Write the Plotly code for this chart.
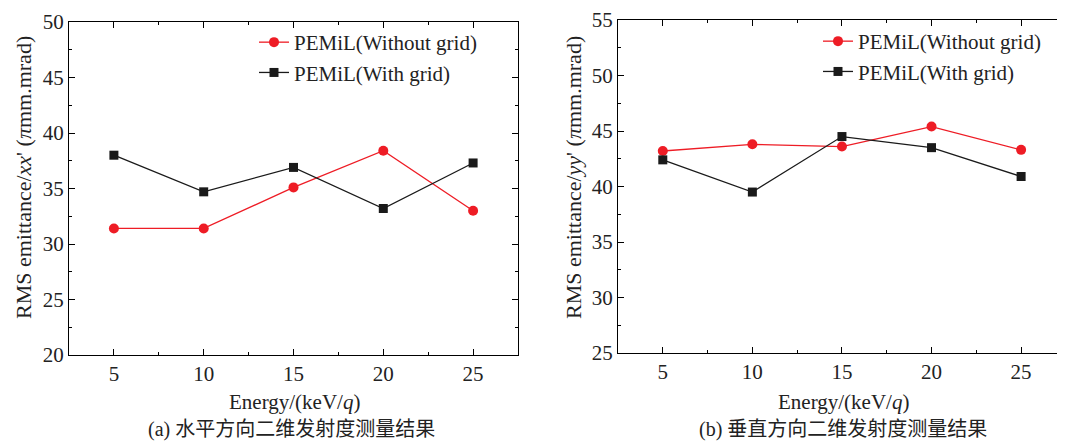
import plotly.graph_objects as go

energy = [5, 10, 15, 20, 25]
xx_without = [31.4, 31.4, 35.1, 38.4, 33.0]
xx_with = [38.0, 34.7, 36.9, 33.2, 37.3]
yy_without = [43.2, 43.8, 43.6, 45.4, 43.3]
yy_with = [42.4, 39.5, 44.5, 43.5, 40.9]

name_without = "PEMiL(Without grid)"
name_with = "PEMiL(With grid)"

RED = "#ee1c25"
BLACK = "#1a1a1a"
FONT = "Liberation Serif"
CJK = "Noto Sans CJK SC"
FS = 21
W, H = 1057, 433

fig = go.Figure()

def add(x, y, name, color, symbol, size, xa, ya):
    fig.add_trace(go.Scatter(
        x=x, y=y, name=name, mode="lines+markers",
        line=dict(color=color, width=1.3),
        marker=dict(color=color, symbol=symbol, size=size),
        xaxis=xa, yaxis=ya, showlegend=True,
        legend="legend" if xa == "x" else "legend2"))

add(energy, xx_without, name_without, RED, "circle", 10, "x", "y")
add(energy, xx_with, name_with, BLACK, "square", 9, "x", "y")
add(energy, yy_without, name_without, RED, "circle", 10, "x2", "y2")
add(energy, yy_with, name_with, BLACK, "square", 9, "x2", "y2")

axis_common = dict(
    showgrid=False, zeroline=False, showline=True, linecolor="black", linewidth=1,
    mirror="ticks", ticks="inside", ticklen=6, tickwidth=1, tickcolor="black",
    tickfont=dict(family=FONT, size=FS, color="#222"), automargin=False,
)
xminor = dict(ticks="inside", ticklen=3, tickcolor="black", tickwidth=1, dtick=2.5, tick0=2.5)
yminor = dict(ticks="inside", ticklen=3, tickcolor="black", tickwidth=1, dtick=2.5)

fig.update_layout(
    width=W, height=H,
    margin=dict(l=0, r=0, t=0, b=0, autoexpand=False),
    paper_bgcolor="white", plot_bgcolor="white",
    font=dict(family=FONT, color="#222"),
    xaxis=dict(domain=[61 / W, 510 / W], range=[2.5, 27.5], tickvals=energy,
               minor=xminor, anchor="y", **axis_common),
    yaxis=dict(domain=[1 - 347 / H, 1 - 14 / H], range=[20, 50], dtick=5,
               minor=yminor, anchor="x", **axis_common),
    xaxis2=dict(domain=[610 / W, 1.0], range=[2.5, 27.45], tickvals=energy,
                minor=xminor, anchor="y2", **axis_common),
    yaxis2=dict(domain=[1 - 345 / H, 1 - 12 / H], range=[25, 55], dtick=5,
                minor=yminor, anchor="x2", **axis_common),
    legend=dict(x=246 / W, y=1 - 14 / H, xanchor="left", yanchor="top",
                bgcolor="rgba(0,0,0,0)", font=dict(family=FONT, size=FS, color="#222"),
                tracegroupgap=0, itemwidth=30),
    legend2=dict(x=810 / W, y=1 - 13 / H, xanchor="left", yanchor="top",
                 bgcolor="rgba(0,0,0,0)", font=dict(family=FONT, size=FS, color="#222"),
                 tracegroupgap=0, itemwidth=30),
)

annos = [
    dict(x=15 / W, y=1 - 170 / H, text="RMS emittance/<i>xx</i>' (<i>π</i>mm.mrad)", textangle=-90,
         font=dict(family=FONT, size=22, color="#222")),
    dict(x=565 / W, y=1 - 170 / H, text="RMS emittance/<i>yy</i>' (<i>π</i>mm.mrad)", textangle=-90,
         font=dict(family=FONT, size=22, color="#222")),
    dict(x=286 / W, y=1 - 394 / H, text="Energy/(keV/<i>q</i>)", font=dict(family=FONT, size=FS, color="#222")),
    dict(x=835 / W, y=1 - 394 / H, text="Energy/(keV/<i>q</i>)", font=dict(family=FONT, size=FS, color="#222")),
    dict(x=283 / W, y=1 - 421 / H, text="(a) 水平方向二维发射度测量结果",
         font=dict(family=f"{FONT}, {CJK}", size=20, color="#222")),
    dict(x=835 / W, y=1 - 421 / H, text="(b) 垂直方向二维发射度测量结果",
         font=dict(family=f"{FONT}, {CJK}", size=20, color="#222")),
]
for a in annos:
    fig.add_annotation(xref="paper", yref="paper", showarrow=False, xanchor="center", yanchor="middle", **a)

fig.write_html("out.html")
